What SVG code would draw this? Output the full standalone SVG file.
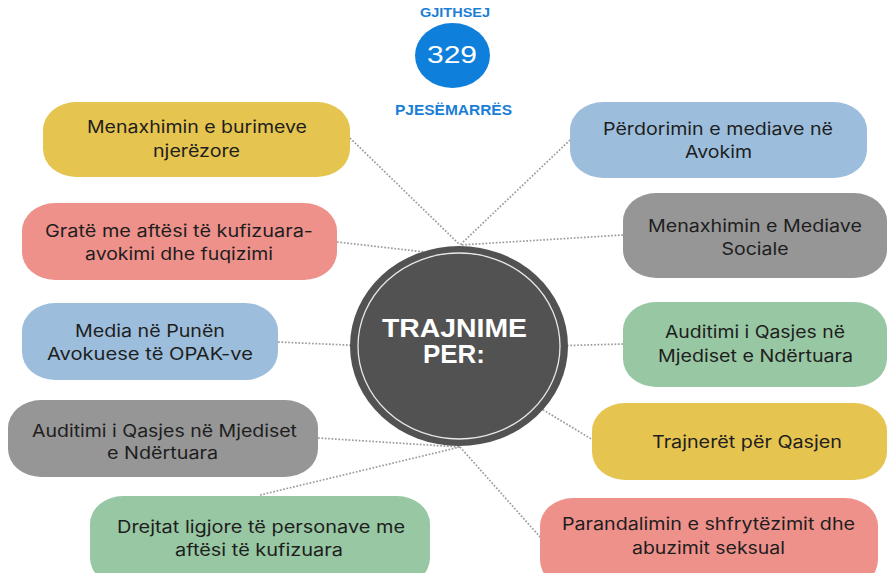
<svg xmlns="http://www.w3.org/2000/svg" width="889" height="573" viewBox="0 0 889 573">
<style>
.bg{fill:#ffffff}
.con{stroke:#9c9c9c;stroke-width:1.7;stroke-dasharray:1.7 1.7;fill:none}
.box{stroke:none}
.y{fill:#E5C450}
.p{fill:#EF918B}
.b{fill:#9CBEDC}
.g{fill:#969696}
.gr{fill:#98C7A3}
.t{font-family:Inter,"Liberation Sans",sans-serif;font-size:17px;fill:#1e1e1e;text-anchor:middle}
.head{font-family:"Liberation Sans",Arial,sans-serif;font-weight:bold;fill:#1a7ed6;text-anchor:middle}
.ct{font-family:"Liberation Sans",Arial,sans-serif;font-weight:bold;font-size:25px;fill:#ffffff;text-anchor:middle}
</style>
<rect class="bg" x="0" y="0" width="889" height="573"/>

<g id="connectors">
<line class="con" x1="350" y1="138" x2="460" y2="245"/>
<line class="con" x1="570" y1="140" x2="460" y2="245"/>
<line class="con" x1="337" y1="242" x2="460" y2="256"/>
<line class="con" x1="623" y1="235" x2="460" y2="245"/>
<line class="con" x1="278" y1="342" x2="370" y2="346"/>
<line class="con" x1="623" y1="344" x2="550" y2="346"/>
<line class="con" x1="540" y1="408" x2="593" y2="440"/>
<line class="con" x1="318" y1="438" x2="460" y2="447"/>
<line class="con" x1="260" y1="495" x2="460" y2="447"/>
<line class="con" x1="460" y1="447" x2="541" y2="538"/>
</g>

<g id="total">
<text class="head" x="455" y="17" font-size="13" textLength="70" lengthAdjust="spacingAndGlyphs">GJITHSEJ</text>
<ellipse cx="452.5" cy="55.5" rx="37.5" ry="32.5" fill="#0E7FDB"/>
<text x="452" y="63" font-family="'Liberation Sans',Arial,sans-serif" font-size="24" fill="#ffffff" text-anchor="middle" textLength="50" lengthAdjust="spacingAndGlyphs">329</text>
<text class="head" x="453.5" y="115" font-size="14" textLength="117" lengthAdjust="spacingAndGlyphs">PJESËMARRËS</text>
</g>

<g id="center">
<ellipse cx="459" cy="346" rx="109" ry="100" fill="#525252"/>
<ellipse cx="459" cy="346" rx="101" ry="93" fill="none" stroke="#e8e8e8" stroke-width="1.3"/>
<text class="ct"><tspan x="454.5" y="337" textLength="145" lengthAdjust="spacingAndGlyphs">TRAJNIME</tspan><tspan x="454" y="363" textLength="62" lengthAdjust="spacingAndGlyphs">PER:</tspan></text>
</g>

<g id="n1">
<rect class="box y" x="43" y="102" width="307" height="75" rx="33" ry="28"/>
<text class="t" x="197" y="133" textLength="220" lengthAdjust="spacingAndGlyphs">Menaxhimin e burimeve</text>
<text class="t" x="196.5" y="157" textLength="87" lengthAdjust="spacingAndGlyphs">njerëzore</text>
</g>

<g id="n2">
<rect class="box p" x="22" y="203" width="315" height="77" rx="33" ry="28"/>
<text class="t" x="179" y="237" textLength="268" lengthAdjust="spacingAndGlyphs">Gratë me aftësi të kufizuara-</text>
<text class="t" x="179" y="260" textLength="188" lengthAdjust="spacingAndGlyphs">avokimi dhe fuqizimi</text>
</g>

<g id="n3">
<rect class="box b" x="22" y="303" width="256" height="77" rx="33" ry="28"/>
<text class="t" x="150" y="337" textLength="150" lengthAdjust="spacingAndGlyphs">Media në Punën</text>
<text class="t" x="150" y="360" textLength="206" lengthAdjust="spacingAndGlyphs">Avokuese të OPAK-ve</text>
</g>

<g id="n4">
<rect class="box g" x="8" y="400" width="310" height="77" rx="33" ry="28"/>
<text class="t" x="164.5" y="437" textLength="265" lengthAdjust="spacingAndGlyphs">Auditimi i Qasjes në Mjediset</text>
<text class="t" x="162.5" y="459" textLength="111" lengthAdjust="spacingAndGlyphs">e Ndërtuara</text>
</g>

<g id="n5">
<rect class="box gr" x="90" y="496" width="340" height="90" rx="33" ry="28"/>
<text class="t" x="261" y="533" textLength="288" lengthAdjust="spacingAndGlyphs">Drejtat ligjore të personave me</text>
<text class="t" x="259" y="556" textLength="168" lengthAdjust="spacingAndGlyphs">aftësi të kufizuara</text>
</g>

<g id="n6">
<rect class="box b" x="570" y="102" width="297" height="76" rx="33" ry="28"/>
<text class="t" x="718" y="135" textLength="230" lengthAdjust="spacingAndGlyphs">Përdorimin e mediave në</text>
<text class="t" x="718.5" y="158" textLength="67" lengthAdjust="spacingAndGlyphs">Avokim</text>
</g>

<g id="n7">
<rect class="box g" x="623" y="193" width="264" height="85" rx="33" ry="28"/>
<text class="t" x="755" y="232" textLength="214" lengthAdjust="spacingAndGlyphs">Menaxhimin e Mediave</text>
<text class="t" x="755" y="255" textLength="67" lengthAdjust="spacingAndGlyphs">Sociale</text>
</g>

<g id="n8">
<rect class="box gr" x="623" y="302" width="264" height="85" rx="33" ry="28"/>
<text class="t" x="755" y="338" textLength="180" lengthAdjust="spacingAndGlyphs">Auditimi i Qasjes në</text>
<text class="t" x="755.5" y="362" textLength="195" lengthAdjust="spacingAndGlyphs">Mjediset e Ndërtuara</text>
</g>

<g id="n9">
<rect class="box y" x="592" y="403" width="295" height="77" rx="33" ry="28"/>
<text class="t" x="747" y="448" textLength="190" lengthAdjust="spacingAndGlyphs">Trajnerët për Qasjen</text>
</g>

<g id="n10">
<rect class="box p" x="540" y="498" width="338" height="90" rx="33" ry="28"/>
<text class="t" x="708.5" y="530" textLength="293" lengthAdjust="spacingAndGlyphs">Parandalimin e shfrytëzimit dhe</text>
<text class="t" x="708.5" y="554" textLength="153" lengthAdjust="spacingAndGlyphs">abuzimit seksual</text>
</g>
</svg>
